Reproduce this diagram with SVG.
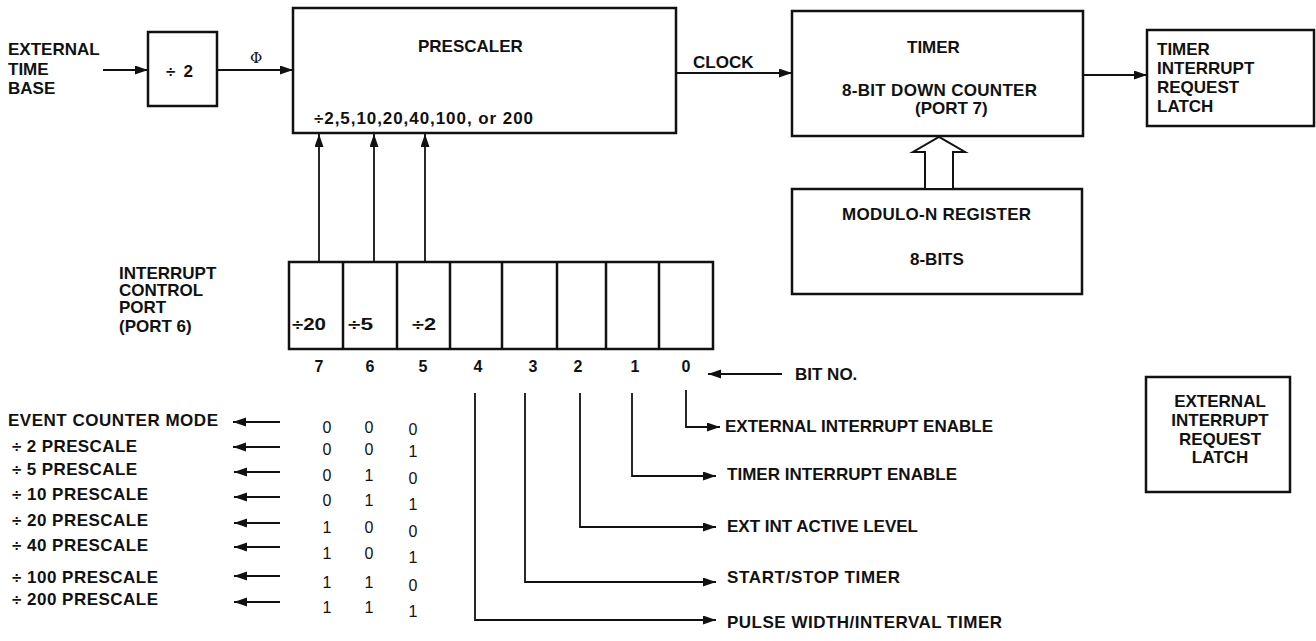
<svg xmlns="http://www.w3.org/2000/svg" width="1316" height="641" viewBox="0 0 1316 641">
<style>
.box{fill:#fff;stroke:#111;stroke-width:2.5}
.ln{fill:none;stroke:#111;stroke-width:1.8}
.b{font-family:"Liberation Sans",Arial,sans-serif;font-weight:bold;font-size:17px;fill:#111}
.bn{font-family:"Liberation Sans",Arial,sans-serif;font-weight:bold;font-size:16px;fill:#111}
.d{font-family:"Liberation Sans",Arial,sans-serif;font-size:16px;fill:#111;text-anchor:middle}
.m{text-anchor:middle}
</style>
<defs>
<marker id="ah" markerUnits="userSpaceOnUse" markerWidth="14" markerHeight="10" refX="13" refY="4.5" orient="auto">
<path d="M0,0 L13,4.5 L0,9 z" fill="#111"/>
</marker>
</defs>

<g id="ext-time-base">
<text class="b" x="8" y="55">EXTERNAL</text>
<text class="b" x="8" y="75">TIME</text>
<text class="b" x="8" y="94">BASE</text>
</g>

<g id="div2">
<rect class="box" x="148" y="32" width="69" height="74"/>
<text class="b" x="166" y="77" textLength="27">÷ 2</text>
</g>

<g id="prescaler">
<rect class="box" x="293" y="8" width="383" height="125"/>
<text class="b" x="418" y="52">PRESCALER</text>
<text class="b" x="314" y="124" textLength="219">÷2,5,10,20,40,100, or 200</text>
</g>

<g id="timer">
<rect class="box" x="792" y="11" width="291" height="125"/>
<text class="b" x="907" y="53">TIMER</text>
<text class="b" x="842" y="96" textLength="195">8-BIT DOWN COUNTER</text>
<text class="b" x="915" y="114">(PORT 7)</text>
</g>

<g id="timer-latch">
<rect class="box" x="1147" y="30" width="167" height="96"/>
<text class="b" x="1157" y="55">TIMER</text>
<text class="b" x="1157" y="74">INTERRUPT</text>
<text class="b" x="1157" y="93">REQUEST</text>
<text class="b" x="1157" y="112">LATCH</text>
</g>

<g id="modulo">
<rect class="box" x="792" y="189" width="290" height="105"/>
<text class="b" x="842" y="220" textLength="189">MODULO-N REGISTER</text>
<text class="b" x="910" y="265">8-BITS</text>
</g>

<g id="ext-latch">
<rect class="box" x="1146" y="377" width="144" height="115"/>
<text class="b m" x="1220" y="407">EXTERNAL</text>
<text class="b m" x="1220" y="426">INTERRUPT</text>
<text class="b m" x="1220" y="445">REQUEST</text>
<text class="b m" x="1220" y="463">LATCH</text>
</g>

<g id="port6-label">
<text class="b" x="119" y="279">INTERRUPT</text>
<text class="b" x="119" y="296">CONTROL</text>
<text class="b" x="119" y="313">PORT</text>
<text class="b" x="119" y="332">(PORT 6)</text>
</g>

<g id="register">
<rect class="box" x="289" y="262" width="424" height="87"/>
<path class="box" d="M343,262V349M397,262V349M450,262V349M502,262V349M557,262V349M606,262V349M659,262V349" fill="none"/>
<text class="b" x="292" y="330" textLength="34" lengthAdjust="spacingAndGlyphs">÷20</text>
<text class="b" x="348" y="330" textLength="25" lengthAdjust="spacingAndGlyphs">÷5</text>
<text class="b" x="412" y="330" textLength="24" lengthAdjust="spacingAndGlyphs">÷2</text>
</g>

<g id="bitnos">
<text class="bn m" x="319" y="372">7</text>
<text class="bn m" x="370" y="372">6</text>
<text class="bn m" x="423" y="372">5</text>
<text class="bn m" x="478" y="372">4</text>
<text class="bn m" x="533" y="372">3</text>
<text class="bn m" x="578" y="372">2</text>
<text class="bn m" x="635" y="372">1</text>
<text class="bn m" x="686" y="372">0</text>
<text class="b" x="795" y="380">BIT NO.</text>
</g>

<g id="bit-labels">
<text class="b" x="725" y="432" textLength="268">EXTERNAL INTERRUPT ENABLE</text>
<text class="b" x="727" y="480" textLength="230">TIMER INTERRUPT ENABLE</text>
<text class="b" x="727" y="532" textLength="191">EXT INT ACTIVE LEVEL</text>
<text class="b" x="727" y="583" textLength="173">START/STOP TIMER</text>
<text class="b" x="727" y="628" textLength="275">PULSE WIDTH/INTERVAL TIMER</text>
</g>

<g id="mode-table">
<text class="b" x="8" y="426" textLength="210">EVENT COUNTER MODE</text>
<text class="b" x="12" y="452" textLength="125">÷ 2 PRESCALE</text>
<text class="b" x="12" y="475" textLength="125">÷ 5 PRESCALE</text>
<text class="b" x="12" y="500" textLength="136">÷ 10 PRESCALE</text>
<text class="b" x="12" y="526" textLength="136">÷ 20 PRESCALE</text>
<text class="b" x="12" y="551" textLength="136">÷ 40 PRESCALE</text>
<text class="b" x="12" y="583" textLength="146">÷ 100 PRESCALE</text>
<text class="b" x="12" y="605" textLength="146">÷ 200 PRESCALE</text>

<text class="d" x="327" y="433">0</text><text class="d" x="369" y="433">0</text><text class="d" x="413" y="435">0</text>
<text class="d" x="327" y="455">0</text><text class="d" x="369" y="455">0</text><text class="d" x="413" y="457">1</text>
<text class="d" x="327" y="481">0</text><text class="d" x="369" y="481">1</text><text class="d" x="413" y="484">0</text>
<text class="d" x="327" y="506">0</text><text class="d" x="369" y="506">1</text><text class="d" x="413" y="510">1</text>
<text class="d" x="327" y="533">1</text><text class="d" x="369" y="533">0</text><text class="d" x="413" y="537">0</text>
<text class="d" x="327" y="559">1</text><text class="d" x="369" y="559">0</text><text class="d" x="413" y="563">1</text>
<text class="d" x="327" y="588">1</text><text class="d" x="369" y="588">1</text><text class="d" x="413" y="591">0</text>
<text class="d" x="327" y="613">1</text><text class="d" x="369" y="613">1</text><text class="d" x="413" y="617">1</text>
</g>

<g id="connectors">
<line class="ln" x1="103" y1="70" x2="148" y2="70" marker-end="url(#ah)"/>
<line class="ln" x1="217" y1="70" x2="293" y2="70" marker-end="url(#ah)"/>
<text x="250" y="63" style="font-family:'DejaVu Serif',serif;font-size:15px;fill:#111">Φ</text>
<line class="ln" x1="676" y1="73" x2="792" y2="73" marker-end="url(#ah)"/>
<text class="b" x="693" y="68">CLOCK</text>
<line class="ln" x1="1083" y1="75" x2="1147" y2="75" marker-end="url(#ah)"/>
<polygon points="925,189 925,152 913,152 939,137 965,152 953,152 953,189" fill="#fff" stroke="#111" stroke-width="2"/>
<line class="ln" x1="319" y1="262" x2="319" y2="134" marker-end="url(#ah)"/>
<line class="ln" x1="374" y1="262" x2="374" y2="134" marker-end="url(#ah)"/>
<line class="ln" x1="425" y1="262" x2="425" y2="134" marker-end="url(#ah)"/>
<line class="ln" x1="782" y1="374" x2="708" y2="374" marker-end="url(#ah)"/>
<path class="ln" d="M686,390V427H720" marker-end="url(#ah)"/>
<path class="ln" d="M632,393V476H716" marker-end="url(#ah)"/>
<path class="ln" d="M580,393V527H716" marker-end="url(#ah)"/>
<path class="ln" d="M525,393V582H716" marker-end="url(#ah)"/>
<path class="ln" d="M475,393V620H716" marker-end="url(#ah)"/>
<line class="ln" x1="280" y1="422" x2="233" y2="422" marker-end="url(#ah)"/>
<line class="ln" x1="280" y1="447" x2="233" y2="447" marker-end="url(#ah)"/>
<line class="ln" x1="280" y1="472" x2="234" y2="472" marker-end="url(#ah)"/>
<line class="ln" x1="280" y1="497" x2="234" y2="497" marker-end="url(#ah)"/>
<line class="ln" x1="280" y1="523" x2="234" y2="523" marker-end="url(#ah)"/>
<line class="ln" x1="280" y1="547" x2="234" y2="547" marker-end="url(#ah)"/>
<line class="ln" x1="280" y1="576" x2="234" y2="576" marker-end="url(#ah)"/>
<line class="ln" x1="280" y1="602" x2="234" y2="602" marker-end="url(#ah)"/>
</g>
</svg>
